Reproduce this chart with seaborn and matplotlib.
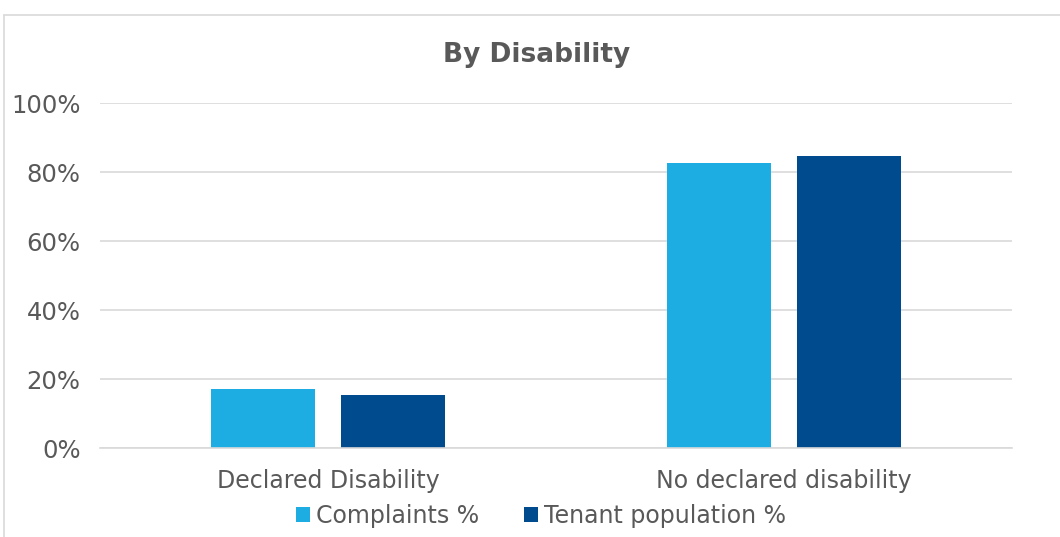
import matplotlib
matplotlib.use("Agg")
import matplotlib.pyplot as plt
import seaborn as sns
import pandas as pd
from matplotlib.lines import Line2D
from matplotlib.patches import Patch

categories = ["Declared Disability", "No declared disability"]
series = ["Complaints %", "Tenant population %"]
complaints = [17.3, 82.7]
tenant = [15.4, 84.6]
yticks = [0, 20, 40, 60, 80, 100]
ytick_labels = ["0%", "20%", "40%", "60%", "80%", "100%"]
colors = ["#1DADE3", "#004B8D"]

df = pd.DataFrame({
    "category": categories * 2,
    "series": [series[0]] * 2 + [series[1]] * 2,
    "value": complaints + tenant,
})

sns.set_theme(style="white")
plt.rcParams["font.family"] = ["DejaVu Sans"]
text_color = "#595959"
grid_color = "#D9D9D9"

fig = plt.figure(figsize=(10.6, 5.37), dpi=100)
ax = fig.add_axes([100 / 1060, 1 - 448.3 / 537, 912 / 1060, 345 / 537])

sns.barplot(data=df, x="category", y="value", hue="series", order=categories,
            hue_order=series, palette=colors, width=0.57, gap=0.207,
            saturation=1, ax=ax, legend=False, errorbar=None, linewidth=0)

ax.set_xlim(-0.5, 1.5)
ax.set_ylim(0, 100)
ax.set_yticks(yticks)
ax.set_yticklabels(ytick_labels)
ax.yaxis.grid(True, color=grid_color, linewidth=1.2)
ax.set_axisbelow(True)
for s in ["top", "right", "left"]:
    ax.spines[s].set_visible(False)
ax.spines["bottom"].set_color(grid_color)
ax.spines["bottom"].set_linewidth(1.2)
ax.tick_params(axis="both", length=0, labelcolor=text_color)
ax.tick_params(axis="y", pad=14, labelsize=17.5)
ax.tick_params(axis="x", pad=15, labelsize=17)
ax.set_xlabel("")
ax.set_ylabel("")

fig.text(537 / 1060, 1 - 55 / 537, "By Disability", ha="center", va="center",
         fontsize=19, fontweight="bold", color=text_color)

handles = [Patch(facecolor=c, edgecolor="none") for c in colors]
fig.legend(handles, series, loc="center", bbox_to_anchor=(541 / 1060, 1 - 516 / 537),
           ncol=2, frameon=False, fontsize=17, labelcolor=text_color,
           handlelength=0.6, handleheight=0.6, handletextpad=0.25, columnspacing=1.9)

# outer chart border
fig.add_artist(Line2D([4 / 1060, 4 / 1060], [0, 1 - 15 / 537], transform=fig.transFigure,
                      color=grid_color, linewidth=1.2))
fig.add_artist(Line2D([4 / 1060, 1], [1 - 15 / 537, 1 - 15 / 537], transform=fig.transFigure,
                      color=grid_color, linewidth=1.2))

fig.savefig("out.png", dpi=100)
